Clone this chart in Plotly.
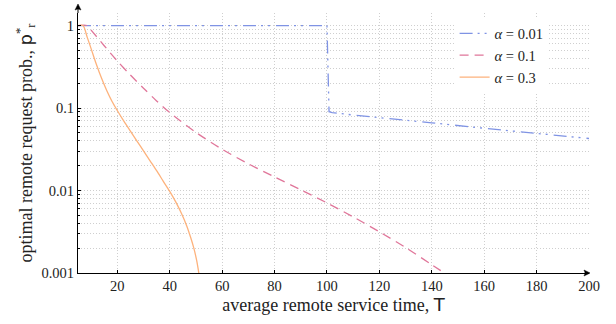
import plotly.graph_objects as go

# ---- data ----
T_a001 = [5, 100, 100.8, 102, 110, 120, 140, 160, 180, 200]
p_a001 = [1, 1, 0.0902, 0.0881, 0.0822, 0.0759, 0.0661, 0.0569, 0.0495, 0.0427]

T_a01 = [5, 8.5, 10, 15, 20, 25, 30, 35, 40, 50, 60, 70, 80, 90, 100, 110, 120, 130, 140, 144.8]
p_a01 = [1, 1, 0.881, 0.569, 0.372, 0.251, 0.174, 0.122, 0.0881, 0.0507, 0.0316, 0.0211,
         0.0146, 0.0102, 0.00708, 0.00479, 0.00316, 0.00204, 0.00126, 0.001]

T_a03 = [5, 6.9, 8.5, 10, 12, 14, 16, 18, 20, 22.5, 25, 27.5, 30, 32.5, 35, 37.5,
         40, 42.5, 44.5, 46.5, 48, 49.2, 50.3, 51.1]
p_a03 = [1, 1, 0.724, 0.525, 0.339, 0.229, 0.162, 0.120, 0.0933, 0.0692, 0.0525, 0.0398,
         0.0302, 0.0229, 0.0174, 0.0130, 0.00977, 0.00708, 0.00525, 0.00372, 0.00269,
         0.00200, 0.00141, 0.001]

names = ["<i>α</i> = 0.01", "<i>α</i> = 0.1", "<i>α</i> = 0.3"]
colors = ["#7f93e4", "#e0769a", "#fdb27c"]
dashes = ["13px,5px,2px,5px,2px,6px", "9px,6px", "solid"]
shapes_ = ["linear", "spline", "spline"]

x_ticks = [20, 40, 60, 80, 100, 120, 140, 160, 180, 200]
y_ticks = [0.001, 0.01, 0.1, 1]
y_tick_text = ["0.001", "0.01", "0.1", "1"]
y_minor = [m * 10.0 ** e for e in (-3, -2, -1) for m in range(2, 10)]

FONT = "Liberation Serif"

fig = go.Figure()
for T, p, n, c, d, s in zip([T_a001, T_a01, T_a03], [p_a001, p_a01, p_a03], names, colors, dashes, shapes_):
    fig.add_trace(go.Scatter(x=T, y=p, mode="lines", name=n,
                             line=dict(color=c, width=1.3, dash=d, shape=s, smoothing=0.8)))

grid = "#cfcfcf"
gdash = "1px,2px"
fig.update_layout(
    width=616, height=324,
    margin=dict(l=78, r=27, t=13, b=51),
    paper_bgcolor="white", plot_bgcolor="white",
    font=dict(family=FONT, size=14.5, color="#222"),
    showlegend=True,
    legend=dict(x=0.737, y=0.983, xanchor="left", yanchor="top",
                bgcolor="white", borderwidth=0, font=dict(size=14.5),
                tracegroupgap=0, itemwidth=30),
    xaxis=dict(range=[5, 200], tickvals=x_ticks, showgrid=True, gridcolor=grid,
               griddash=gdash, gridwidth=1, showline=True, linecolor="black",
               linewidth=1, ticks="inside", ticklen=3, tickcolor="black",
               zeroline=False,
               title=dict(text="average remote service time, <span style='font-family:DejaVu Sans'>T</span>",
                          font=dict(size=18), standoff=4)),
    yaxis=dict(type="log", range=[-3, 0.152], tickvals=y_ticks, ticktext=y_tick_text,
               showgrid=True, gridcolor=grid, griddash=gdash, gridwidth=1,
               showline=True, linecolor="black", linewidth=1, ticks="inside",
               ticklen=3, tickcolor="black", zeroline=False,
               minor=dict(tickvals=y_minor, showgrid=True, gridcolor=grid,
                          griddash=gdash, ticks="inside", ticklen=2, tickcolor="black"),
               title=dict(text="optimal remote request prob., <span style='font-family:DejaVu Sans'>p</span><sup>*</sup><sub>r</sub>",
                          font=dict(size=18), standoff=4)),
)

# axis arrows (paper coords; plot area is 511 x 260 px)
W, H = 511.0, 260.0
tip_y = 1 + 9 / H
fig.add_shape(type="line", xref="paper", yref="paper", x0=0, x1=0, y0=1, y1=tip_y - 2 / H,
              line=dict(color="black", width=1))
fig.add_shape(type="path", xref="paper", yref="paper",
              path=f"M {-3/W} {tip_y - 6/H} L 0 {tip_y} L {3/W} {tip_y - 6/H} Q 0 {tip_y - 4/H} {-3/W} {tip_y - 6/H} Z",
              fillcolor="black", line=dict(color="black", width=0.5))
tip_x = 1 + 1 / W
fig.add_shape(type="path", xref="paper", yref="paper",
              path=f"M {tip_x - 6/W} {3/H} L {tip_x} 0 L {tip_x - 6/W} {-3/H} Q {tip_x - 4/W} 0 {tip_x - 6/W} {3/H} Z",
              fillcolor="black", line=dict(color="black", width=0.5))

fig.write_html("out.html")
